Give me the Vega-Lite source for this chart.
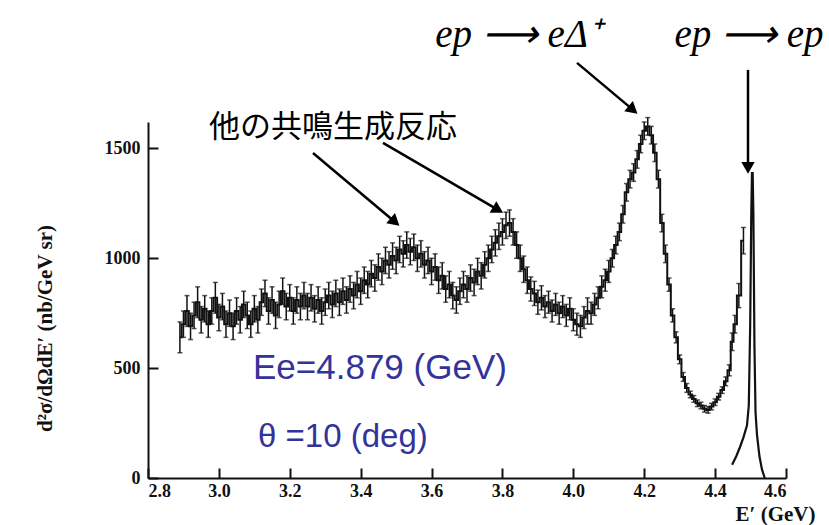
{
  "$schema": "https://vega.github.io/schema/vega-lite/v6.json",
  "width": 638,
  "height": 356,
  "autosize": {"type": "none"},
  "padding": {"left": 148, "top": 122, "right": 43, "bottom": 47},
  "background": "white",
  "config": {
    "view": {"stroke": null},
    "axis": {
      "grid": false,
      "domainColor": "#111",
      "domainWidth": 2,
      "tickColor": "#111",
      "tickWidth": 2,
      "tickSize": -10,
      "labelFont": "Liberation Serif",
      "labelFontWeight": "bold",
      "labelFontSize": 18,
      "labelColor": "#111",
      "titleFont": "Liberation Serif",
      "titleFontWeight": "bold",
      "titleColor": "#111"
    }
  },
  "datasets": {
    "spec": [
      {"E": 2.89, "v": 640, "err": 70}, {"E": 2.90, "v": 700, "err": 60}, {"E": 2.91, "v": 760, "err": 70},
      {"E": 2.92, "v": 690, "err": 60}, {"E": 2.93, "v": 740, "err": 60}, {"E": 2.94, "v": 800, "err": 70},
      {"E": 2.95, "v": 720, "err": 60}, {"E": 2.96, "v": 770, "err": 60}, {"E": 2.97, "v": 700, "err": 60},
      {"E": 2.98, "v": 760, "err": 60}, {"E": 2.99, "v": 820, "err": 70}, {"E": 3.00, "v": 730, "err": 60},
      {"E": 3.01, "v": 780, "err": 60}, {"E": 3.02, "v": 700, "err": 60}, {"E": 3.03, "v": 750, "err": 60},
      {"E": 3.04, "v": 690, "err": 60}, {"E": 3.05, "v": 760, "err": 60}, {"E": 3.06, "v": 720, "err": 60},
      {"E": 3.07, "v": 790, "err": 60}, {"E": 3.08, "v": 740, "err": 60}, {"E": 3.09, "v": 700, "err": 60},
      {"E": 3.10, "v": 770, "err": 60}, {"E": 3.11, "v": 720, "err": 60}, {"E": 3.12, "v": 800, "err": 60},
      {"E": 3.13, "v": 840, "err": 60}, {"E": 3.14, "v": 760, "err": 60}, {"E": 3.15, "v": 810, "err": 60},
      {"E": 3.16, "v": 740, "err": 60}, {"E": 3.17, "v": 790, "err": 60}, {"E": 3.18, "v": 850, "err": 60},
      {"E": 3.19, "v": 780, "err": 60}, {"E": 3.20, "v": 820, "err": 60}, {"E": 3.21, "v": 760, "err": 60},
      {"E": 3.22, "v": 810, "err": 60}, {"E": 3.23, "v": 780, "err": 60}, {"E": 3.24, "v": 830, "err": 60},
      {"E": 3.25, "v": 780, "err": 60}, {"E": 3.26, "v": 820, "err": 60}, {"E": 3.27, "v": 770, "err": 60},
      {"E": 3.28, "v": 810, "err": 60}, {"E": 3.29, "v": 760, "err": 60}, {"E": 3.30, "v": 800, "err": 60},
      {"E": 3.31, "v": 830, "err": 60}, {"E": 3.32, "v": 790, "err": 60}, {"E": 3.33, "v": 840, "err": 60},
      {"E": 3.34, "v": 800, "err": 60}, {"E": 3.35, "v": 850, "err": 60}, {"E": 3.36, "v": 810, "err": 60},
      {"E": 3.37, "v": 860, "err": 60}, {"E": 3.38, "v": 830, "err": 60}, {"E": 3.39, "v": 880, "err": 60},
      {"E": 3.40, "v": 850, "err": 60}, {"E": 3.41, "v": 900, "err": 60}, {"E": 3.42, "v": 880, "err": 60},
      {"E": 3.43, "v": 930, "err": 60}, {"E": 3.44, "v": 910, "err": 60}, {"E": 3.45, "v": 960, "err": 60},
      {"E": 3.46, "v": 940, "err": 60}, {"E": 3.47, "v": 990, "err": 60}, {"E": 3.48, "v": 970, "err": 60},
      {"E": 3.49, "v": 1010, "err": 60}, {"E": 3.50, "v": 990, "err": 60}, {"E": 3.51, "v": 1040, "err": 60},
      {"E": 3.52, "v": 1020, "err": 60}, {"E": 3.53, "v": 1060, "err": 60}, {"E": 3.54, "v": 1030, "err": 60},
      {"E": 3.55, "v": 1050, "err": 60}, {"E": 3.56, "v": 1000, "err": 60}, {"E": 3.57, "v": 1020, "err": 60},
      {"E": 3.58, "v": 970, "err": 60}, {"E": 3.59, "v": 990, "err": 60}, {"E": 3.60, "v": 940, "err": 60},
      {"E": 3.61, "v": 960, "err": 60}, {"E": 3.62, "v": 900, "err": 60}, {"E": 3.63, "v": 920, "err": 60},
      {"E": 3.64, "v": 860, "err": 60}, {"E": 3.65, "v": 880, "err": 60}, {"E": 3.66, "v": 830, "err": 60},
      {"E": 3.67, "v": 810, "err": 60}, {"E": 3.68, "v": 850, "err": 60}, {"E": 3.69, "v": 880, "err": 60},
      {"E": 3.70, "v": 860, "err": 60}, {"E": 3.71, "v": 910, "err": 60}, {"E": 3.72, "v": 890, "err": 60},
      {"E": 3.73, "v": 940, "err": 60}, {"E": 3.74, "v": 920, "err": 60}, {"E": 3.75, "v": 970, "err": 60},
      {"E": 3.76, "v": 1000, "err": 60}, {"E": 3.77, "v": 1040, "err": 60}, {"E": 3.78, "v": 1070, "err": 60},
      {"E": 3.79, "v": 1100, "err": 60}, {"E": 3.80, "v": 1120, "err": 60}, {"E": 3.81, "v": 1150, "err": 60},
      {"E": 3.82, "v": 1160, "err": 60}, {"E": 3.83, "v": 1120, "err": 60}, {"E": 3.84, "v": 1060, "err": 60},
      {"E": 3.85, "v": 1000, "err": 60}, {"E": 3.86, "v": 950, "err": 60}, {"E": 3.87, "v": 900, "err": 60},
      {"E": 3.88, "v": 860, "err": 55}, {"E": 3.89, "v": 840, "err": 55}, {"E": 3.90, "v": 800, "err": 55},
      {"E": 3.91, "v": 820, "err": 55}, {"E": 3.92, "v": 780, "err": 50}, {"E": 3.93, "v": 800, "err": 50},
      {"E": 3.94, "v": 760, "err": 50}, {"E": 3.95, "v": 790, "err": 50}, {"E": 3.96, "v": 750, "err": 50},
      {"E": 3.97, "v": 780, "err": 50}, {"E": 3.98, "v": 740, "err": 50}, {"E": 3.99, "v": 770, "err": 50},
      {"E": 4.00, "v": 720, "err": 50}, {"E": 4.01, "v": 700, "err": 50}, {"E": 4.02, "v": 690, "err": 50},
      {"E": 4.03, "v": 730, "err": 50}, {"E": 4.04, "v": 760, "err": 60}, {"E": 4.05, "v": 750, "err": 50},
      {"E": 4.06, "v": 790, "err": 50}, {"E": 4.07, "v": 820, "err": 50}, {"E": 4.08, "v": 870, "err": 50},
      {"E": 4.09, "v": 900, "err": 50}, {"E": 4.10, "v": 940, "err": 50}, {"E": 4.11, "v": 1000, "err": 40},
      {"E": 4.12, "v": 1060, "err": 40}, {"E": 4.13, "v": 1120, "err": 40}, {"E": 4.14, "v": 1200, "err": 40},
      {"E": 4.15, "v": 1300, "err": 40}, {"E": 4.16, "v": 1360, "err": 40}, {"E": 4.17, "v": 1390, "err": 40},
      {"E": 4.18, "v": 1450, "err": 40}, {"E": 4.19, "v": 1520, "err": 40}, {"E": 4.20, "v": 1580, "err": 40},
      {"E": 4.21, "v": 1600, "err": 40}, {"E": 4.22, "v": 1560, "err": 40}, {"E": 4.23, "v": 1480, "err": 40},
      {"E": 4.24, "v": 1360, "err": 40}, {"E": 4.25, "v": 1160, "err": 40}, {"E": 4.26, "v": 1020, "err": 40},
      {"E": 4.27, "v": 880, "err": 30}, {"E": 4.28, "v": 740, "err": 30}, {"E": 4.29, "v": 640, "err": 25},
      {"E": 4.30, "v": 540, "err": 20}, {"E": 4.31, "v": 460, "err": 20}, {"E": 4.32, "v": 410, "err": 20},
      {"E": 4.33, "v": 380, "err": 15}, {"E": 4.34, "v": 360, "err": 15}, {"E": 4.35, "v": 340, "err": 15},
      {"E": 4.36, "v": 330, "err": 15}, {"E": 4.37, "v": 315, "err": 15}, {"E": 4.38, "v": 310, "err": 15},
      {"E": 4.39, "v": 325, "err": 15}, {"E": 4.40, "v": 345, "err": 15}, {"E": 4.41, "v": 370, "err": 15},
      {"E": 4.42, "v": 400, "err": 15}, {"E": 4.43, "v": 440, "err": 20}, {"E": 4.44, "v": 490, "err": 25},
      {"E": 4.448, "v": 620, "err": 40}, {"E": 4.456, "v": 700, "err": 40}, {"E": 4.467, "v": 830, "err": 55},
      {"E": 4.48, "v": 1080, "err": 60}
    ],
    "elastic": [
      {"E": 4.448, "v": 60}, {"E": 4.46, "v": 100}, {"E": 4.47, "v": 140}, {"E": 4.48, "v": 185},
      {"E": 4.49, "v": 240}, {"E": 4.495, "v": 330}, {"E": 4.499, "v": 700}, {"E": 4.502, "v": 1200},
      {"E": 4.504, "v": 1388}, {"E": 4.506, "v": 1388}, {"E": 4.508, "v": 1200}, {"E": 4.511, "v": 600},
      {"E": 4.514, "v": 300}, {"E": 4.518, "v": 200}, {"E": 4.525, "v": 100}, {"E": 4.532, "v": 40},
      {"E": 4.54, "v": 0}
    ],
    "arrows": [
      {"id": 1, "E1": 3.2655, "v1": 1479, "E2": 3.4969, "v2": 1165},
      {"id": 2, "E1": 3.463, "v1": 1525, "E2": 3.7875, "v2": 1220},
      {"id": 3, "E1": 4.0104, "v1": 1889, "E2": 4.1684, "v2": 1675},
      {"id": 4, "E1": 4.4928, "v1": 1857, "E2": 4.4928, "v2": 1411}
    ]
  },
  "layer": [
    {
      "data": {"name": "spec"},
      "mark": {"type": "errorbar", "ticks": {"size": 5, "thickness": 1.5}, "color": "#111", "thickness": 1.5},
      "encoding": {
        "x": {"field": "E", "type": "quantitative", "scale": {"domain": [2.8, 4.6], "nice": false},
          "axis": {"values": [2.8, 3.0, 3.2, 3.4, 3.6, 3.8, 4.0, 4.2, 4.4, 4.6], "format": ".1f", "labelPadding": 14,
            "title": "E′ (GeV)", "titleFontSize": 21, "titleAnchor": "end", "titleAlign": "right", "titleX": 667, "titleY": 36, "titleBaseline": "middle"}},
        "y": {"field": "v", "type": "quantitative", "scale": {"domain": [0, 1620], "nice": false},
          "axis": {"values": [0, 500, 1000, 1500], "format": "d", "labelPadding": 18,
            "title": "d²σ/dΩdE′ (nb/GeV sr)", "titleFontSize": 21, "titleX": -103, "titleY": 206, "titleAngle": -90, "titleAlign": "center", "titleBaseline": "middle"}},
        "yError": {"field": "err"}
      }
    },
    {
      "data": {"name": "spec"},
      "mark": {"type": "line", "interpolate": "step", "color": "#111", "strokeWidth": 2},
      "encoding": {
        "x": {"field": "E", "type": "quantitative"},
        "y": {"field": "v", "type": "quantitative"}
      }
    },
    {
      "data": {"name": "elastic"},
      "mark": {"type": "line", "color": "#111", "strokeWidth": 2.2},
      "encoding": {
        "x": {"field": "E", "type": "quantitative"},
        "y": {"field": "v", "type": "quantitative"}
      }
    },
    {
      "data": {"name": "arrows"},
      "mark": {"type": "rule", "color": "#000", "strokeWidth": 2.5, "clip": false},
      "encoding": {
        "x": {"field": "E1", "type": "quantitative"},
        "x2": {"field": "E2"},
        "y": {"field": "v1", "type": "quantitative"},
        "y2": {"field": "v2"}
      }
    },
    {
      "data": {"name": "arrows"},
      "transform": [{"filter": "datum.id == 1"}],
      "mark": {"type": "point", "shape": "triangle-up", "filled": true, "color": "#000", "size": 180, "angle": 131, "opacity": 1, "clip": false},
      "encoding": {"x": {"field": "E2", "type": "quantitative"}, "y": {"field": "v2", "type": "quantitative"}}
    },
    {
      "data": {"name": "arrows"},
      "transform": [{"filter": "datum.id == 2"}],
      "mark": {"type": "point", "shape": "triangle-up", "filled": true, "color": "#000", "size": 180, "angle": 120, "opacity": 1, "clip": false},
      "encoding": {"x": {"field": "E2", "type": "quantitative"}, "y": {"field": "v2", "type": "quantitative"}}
    },
    {
      "data": {"name": "arrows"},
      "transform": [{"filter": "datum.id == 3"}],
      "mark": {"type": "point", "shape": "triangle-up", "filled": true, "color": "#000", "size": 180, "angle": 130, "opacity": 1, "clip": false},
      "encoding": {"x": {"field": "E2", "type": "quantitative"}, "y": {"field": "v2", "type": "quantitative"}}
    },
    {
      "data": {"name": "arrows"},
      "transform": [{"filter": "datum.id == 4"}],
      "mark": {"type": "point", "shape": "triangle-up", "filled": true, "color": "#000", "size": 180, "angle": 180, "opacity": 1, "clip": false},
      "encoding": {"x": {"field": "E2", "type": "quantitative"}, "y": {"field": "v2", "type": "quantitative"}}
    },
    {
      "data": {"values": [{"E": 3.322, "v": 1593, "label": "他の共鳴生成反応"}]},
      "mark": {"type": "text", "font": "Noto Sans CJK JP", "fontSize": 31, "color": "#000", "align": "center", "baseline": "middle", "clip": false},
      "encoding": {"x": {"field": "E", "type": "quantitative"}, "y": {"field": "v", "type": "quantitative"}, "text": {"field": "label"}}
    },
    {
      "data": {"values": [{"E": 3.844, "v": 1961, "label": "ep ⟶ eΔ⁺"}, {"E": 4.4957, "v": 1961, "label": "ep ⟶ ep"}]},
      "mark": {"type": "text", "font": "Liberation Serif", "fontStyle": "italic", "fontSize": 39, "color": "#000", "align": "center", "baseline": "alphabetic", "clip": false},
      "encoding": {"x": {"field": "E", "type": "quantitative"}, "y": {"field": "v", "type": "quantitative"}, "text": {"field": "label"}}
    },
    {
      "data": {"values": [{"E": 3.0962, "v": 500, "label": "Ee=4.879 (GeV)"}]},
      "mark": {"type": "text", "font": "Liberation Sans", "fontSize": 35, "color": "#333399", "align": "left", "baseline": "middle", "clip": false},
      "encoding": {"x": {"field": "E", "type": "quantitative"}, "y": {"field": "v", "type": "quantitative"}, "text": {"field": "label"}}
    },
    {
      "data": {"values": [{"E": 3.1104, "v": 187, "label": "θ =10 (deg)"}]},
      "mark": {"type": "text", "font": "Liberation Sans", "fontSize": 33, "color": "#333399", "align": "left", "baseline": "middle", "clip": false},
      "encoding": {"x": {"field": "E", "type": "quantitative"}, "y": {"field": "v", "type": "quantitative"}, "text": {"field": "label"}}
    }
  ]
}
